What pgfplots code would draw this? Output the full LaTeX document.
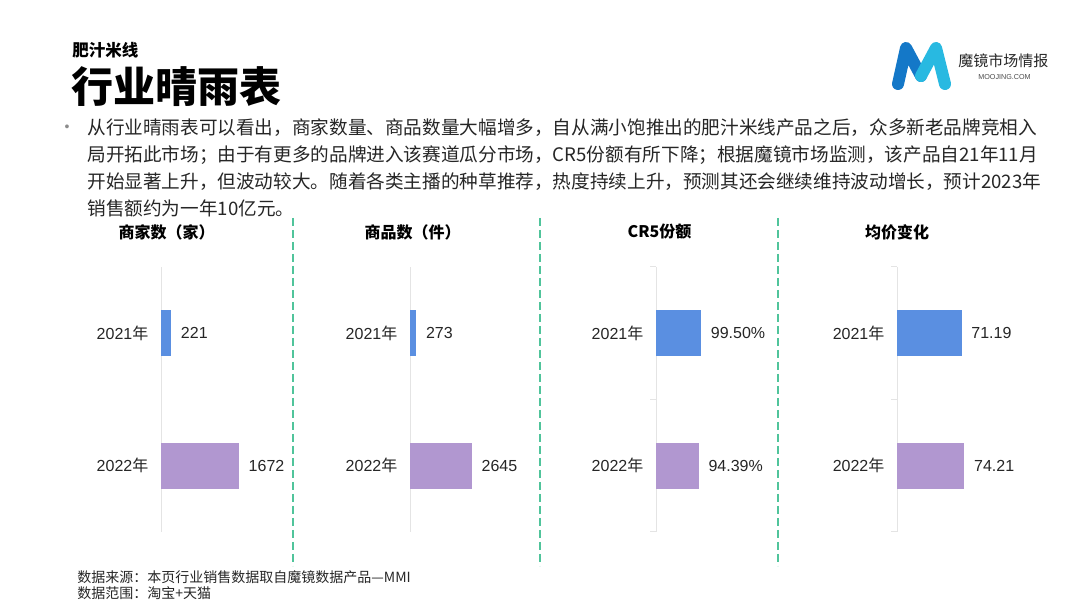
\documentclass[border=0pt]{standalone}
\usepackage{fontspec}
\setmainfont{Liberation Sans}
\newfontfamily\cjk{Noto Sans CJK SC}
\usepackage{pgfplots}
\pgfplotsset{compat=1.18}
\definecolor{barblue}{RGB}{90,143,225}
\definecolor{barpurple}{RGB}{177,151,208}
\definecolor{sepgreen}{RGB}{80,196,155}
\definecolor{axisgray}{RGB}{228,228,228}
\definecolor{txt}{RGB}{38,38,38}
\definecolor{logoA}{RGB}{20,120,200}
\definecolor{logoB}{RGB}{40,185,225}
\pgfplotsset{
 panel/.style={
   scale only axis, width=60pt, height=132.5pt, anchor=north west,
   xbar, bar width=23pt, bar shift=0pt,
   xmin=0, ymin=-0.5, ymax=1.5,
   axis x line=none, axis y line*=left,
   axis line style={draw=axisgray, line width=0.5pt},
   y axis line style={draw=axisgray, line width=0.5pt},
   ytick style={draw=axisgray, line width=0.5pt},
   ytick={0,1}, yticklabels={{2022{\cjk 年}},{2021{\cjk 年}}},
   major tick length=0pt,
   yticklabel style={font=\fontsize{8}{9.6}\selectfont, text=txt, xshift=-2.8pt},
   point meta=explicit symbolic,
   nodes near coords,
   every node near coord/.append style={anchor=west, font=\fontsize{8}{9.6}\selectfont, text=txt, xshift=1.3pt},
   clip=false,
 },
 tickpanel/.style={
   extra y ticks={-0.5,0.5,1.5}, extra y tick labels={},
   extra y tick style={major tick length=3pt, tick align=outside, ytick style={draw=axisgray, line width=0.5pt}},
 },
 barA/.style={fill=barblue, draw=none},
 barB/.style={fill=barpurple, draw=none},
}
\begin{document}
\begin{tikzpicture}
\path[use as bounding box, fill=white] (0,0) rectangle (540pt,304pt);
% panel 1
\begin{axis}[panel, at={(80.5pt,170.5pt)}, xmax=2570]
\addplot[barA] coordinates {(221,1) [221]};
\addplot[barB] coordinates {(1672,0) [1672]};
\end{axis}
% panel 2
\begin{axis}[panel, at={(205pt,170.5pt)}, xmax=5120]
\addplot[barA] coordinates {(273,1) [273]};
\addplot[barB] coordinates {(2645,0) [2645]};
\end{axis}
% panel 3
\begin{axis}[panel, tickpanel, at={(328pt,170.5pt)}, xmax=264]
\addplot[barA] coordinates {(99.50,1) [99.50\%]};
\addplot[barB] coordinates {(94.39,0) [94.39\%]};
\end{axis}
% panel 4
\begin{axis}[panel, tickpanel, at={(448.5pt,170.5pt)}, xmax=132]
\addplot[barA] coordinates {(71.19,1) [71.19]};
\addplot[barB] coordinates {(74.21,0) [74.21]};
\end{axis}
\begin{scope}[x=0.5pt,y=-0.5pt,shift={(0pt,304pt)}]
% headings
\node[anchor=west, inner sep=0pt, font=\cjk\bfseries\fontsize{8.25}{10}\selectfont] at (72,50) {肥汁米线};
\node[anchor=west, inner sep=0pt, font=\cjk\bfseries\fontsize{21}{24}\selectfont] at (71,87) {行业晴雨表};
% logo
\draw[logoA, line width=6pt, line join=round, line cap=round] (898,84) -- (906,48) -- (921,76);
\draw[logoB, line width=6pt, line join=round, line cap=round] (921,76) -- (936,48) -- (945,84);
\node[anchor=west, inner sep=0pt, text=txt, font=\cjk\fontsize{7.5}{9}\selectfont] at (958,61) {魔镜市场情报};
\node[inner sep=0pt, text=black!70, font=\fontsize{3.6}{4}\selectfont] at (1004.5,77) {MOOJING.COM};
% body text
\node[inner sep=0pt, text=black!45, font=\fontsize{7}{8}\selectfont] at (67,128) {•};
\begin{scope}[every node/.style={anchor=west, inner sep=0pt, text=txt, font=\cjk\fontsize{9.31}{12}\selectfont}]
\node at (87,128) {从行业晴雨表可以看出，商家数量、商品数量大幅增多，自从满小饱推出的肥汁米线产品之后，众多新老品牌竞相入};
\node at (87,155) {局开拓此市场；由于有更多的品牌进入该赛道瓜分市场，CR5份额有所下降；根据魔镜市场监测，该产品自21年11月};
\node at (87,182) {开始显著上升，但波动较大。随着各类主播的种草推荐，热度持续上升，预测其还会继续维持波动增长，预计2023年};
\node at (87,208) {销售额约为一年10亿元。};
\end{scope}
% panel titles
\begin{scope}[every node/.style={inner sep=0pt, text=black, font=\cjk\bfseries\fontsize{8}{10}\selectfont}]
\node at (166.5,232) {商家数（家）};
\node at (412.5,232) {商品数（件）};
\node at (659.5,232) {CR5份额};
\node at (897,232) {均价变化};
\end{scope}
% separators
\foreach \xx in {293,540,778}
  \draw[sepgreen, line width=0.9pt, dash pattern=on 4pt off 2pt] (\xx,218) -- (\xx,566);
% footnote
\begin{scope}[every node/.style={anchor=west, inner sep=0pt, text=txt, font=\cjk\fontsize{7}{8}\selectfont}]
\node at (77,577) {数据来源：本页行业销售数据取自魔镜数据产品—MMI};
\node at (77,593) {数据范围：淘宝+天猫};
\end{scope}
\end{scope}
\end{tikzpicture}
\end{document}
